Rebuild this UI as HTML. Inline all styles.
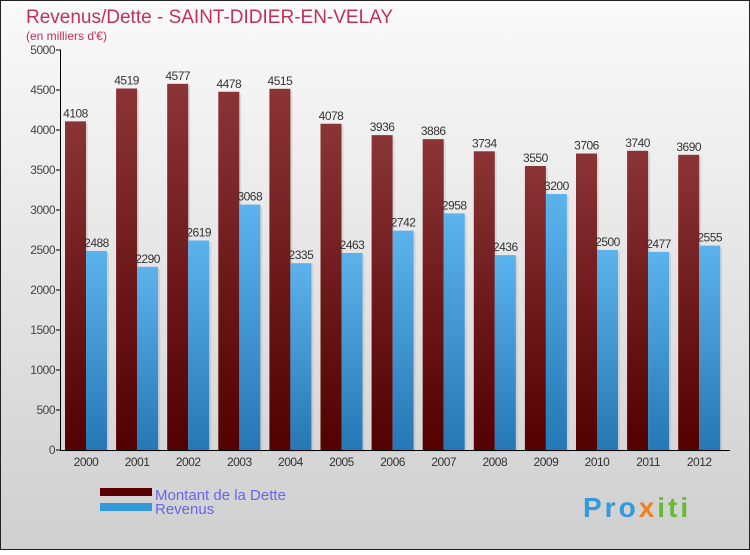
<!DOCTYPE html>
<html><head><meta charset="utf-8"><style>
body{margin:0;width:750px;height:550px;overflow:hidden;font-family:"Liberation Sans",sans-serif}
</style></head><body>
<svg width="750" height="550" xmlns="http://www.w3.org/2000/svg">
<defs>
<linearGradient id="bg" x1="0" y1="0" x2="0" y2="1"><stop offset="0" stop-color="#fafafa"/><stop offset="1" stop-color="#cfcfcf"/></linearGradient>
<linearGradient id="gd" x1="0" y1="0" x2="0" y2="1"><stop offset="0" stop-color="#8a3436"/><stop offset="1" stop-color="#520000"/></linearGradient>
<linearGradient id="gr" x1="0" y1="0" x2="0" y2="1"><stop offset="0" stop-color="#5cb3ec"/><stop offset="1" stop-color="#2677b5"/></linearGradient>
</defs>
<rect x="0.5" y="0.5" width="749" height="549" fill="url(#bg)" stroke="#222"/>
<text x="26" y="23" font-size="19" fill="#c0305a">Revenus/Dette - SAINT-DIDIER-EN-VELAY</text>
<text x="26" y="40" font-size="12" fill="#c0305a">(en milliers d'€)</text>
<g id="plot"></g>
<rect x="100" y="488" width="52" height="8" fill="#5a0000"/>
<rect x="100" y="503" width="52" height="8" fill="#3399dd"/>
<text x="155" y="500" font-size="15" fill="#6666ee">Montant de la Dette</text>
<text x="155" y="514" font-size="15" fill="#6666ee">Revenus</text>
<text x="583" y="517" font-size="28" font-weight="bold" letter-spacing="3" fill="#3399dd">Pro<tspan fill="#f08020">x</tspan><tspan fill="#66bb33">iti</tspan></text>
</svg>
<script>
const years=["2000","2001","2002","2003","2004","2005","2006","2007","2008","2009","2010","2011","2012"];
const dette=[4108,4519,4577,4478,4515,4078,3936,3886,3734,3550,3706,3740,3690];
const revenus=[2488,2290,2619,3068,2335,2463,2742,2958,2436,3200,2500,2477,2555];
const yTicks=[0,500,1000,1500,2000,2500,3000,3500,4000,4500,5000];
const NS="http://www.w3.org/2000/svg";
const g=document.getElementById('plot');
const y=v=>450-v*0.08;
const x0=v=>65+v*51.1;
function el(t,a,txt){const e=document.createElementNS(NS,t);for(const k in a)e.setAttribute(k,a[k]);if(txt!==undefined)e.textContent=txt;g.appendChild(e);return e;}
yTicks.forEach(t=>{
 const l=el('line',{x1:56,x2:61,y1:y(t),y2:y(t),stroke:'#000'});
 
 
 const tx=el('text',{x:55,y:y(t)+4,'font-size':12,fill:'#444','text-anchor':'end','letter-spacing':'-0.5'},t);
 
 
});
years.forEach((yr,i)=>{
 const bx=x0(i);
 el('rect',{x:bx+2,y:y(dette[i])+2,width:21,height:450-y(dette[i]),fill:'#aaa',opacity:0.3});
 el('rect',{x:bx+23,y:y(revenus[i])+2,width:21,height:450-y(revenus[i]),fill:'#aaa',opacity:0.3});
 const a=el('rect',{x:bx,y:y(dette[i]),width:21,height:450-y(dette[i]),fill:'url(#gd)'});
 
 
 const b=el('rect',{x:bx+21,y:y(revenus[i]),width:21,height:450-y(revenus[i]),fill:'url(#gr)'});
 
 
 const la=el('text',{x:bx+10.5,y:y(dette[i])-4,'font-size':12,fill:'#333','text-anchor':'middle','letter-spacing':'-0.5'},dette[i]);
 
 
 const lb=el('text',{x:bx+31.5,y:y(revenus[i])-4,'font-size':12,fill:'#333','text-anchor':'middle','letter-spacing':'-0.5'},revenus[i]);
 
 
 const xl=el('text',{x:bx+21,y:466,'font-size':12,fill:'#333','text-anchor':'middle','letter-spacing':'-0.5'},yr);
 
 
});
const ax=el('line',{x1:60.5,x2:60.5,y1:50,y2:450,stroke:'#000'});


const bx=el('line',{x1:60,x2:730,y1:450.5,y2:450.5,stroke:'#000'});


</script>
</body></html>
